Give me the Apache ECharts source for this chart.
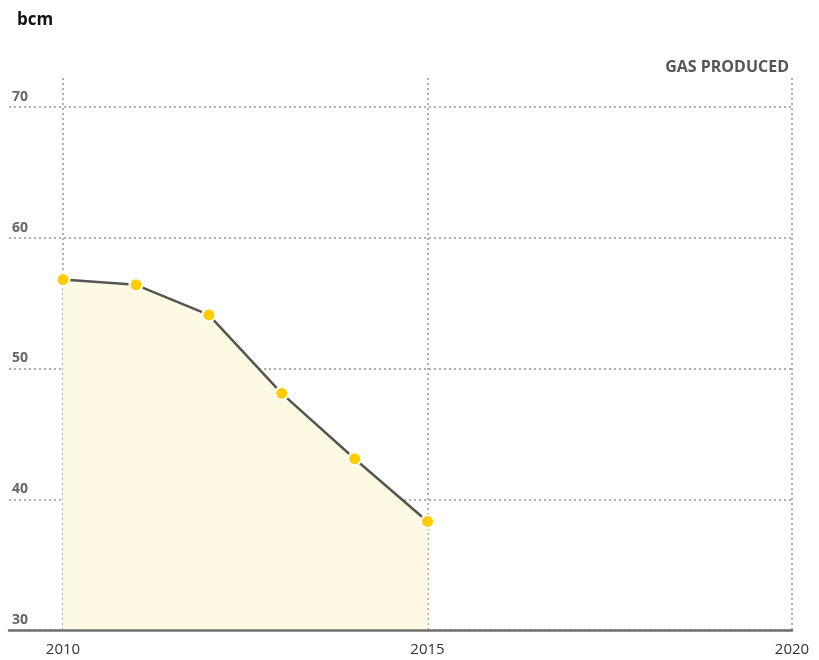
<!DOCTYPE html>
<html>
<head>
<meta charset="utf-8">
<script src="https://cdn.jsdelivr.net/npm/echarts@6/dist/echarts.min.js"></script>
<style>
  html, body { margin: 0; padding: 0; background: #fff; }
  #chart { width: 819px; height: 660px; }
</style>
</head>
<body>
<div id="chart"></div>
<script>
const years = [2010, 2011, 2012, 2013, 2014, 2015];
const gasProduced = [56.8, 56.4, 54.1, 48.1, 43.1, 38.3];

const chart = echarts.init(document.getElementById("chart"));

const dotted = { color: "#b0b0b0", width: 2, type: [2, 3] };

const option = {
	animation: false,
	textStyle: { fontFamily: "Open Sans" },
	title: [
		{
			text: "bcm",
			left: 12, top: 7,
			textStyle: { fontSize: 17, fontWeight: "bold", color: "#111" }
		},
		{
			text: "GAS PRODUCED",
			right: 25, top: 54,
			textStyle: { fontSize: 16, fontWeight: "bold", color: "#555" }
		}
	],
	grid: [
		{ left: 9, right: 27, top: 107, bottom: 30 },
		{ left: 63, right: 27, top: 78, bottom: 30 }
	],
	xAxis: [
		{
			gridIndex: 0, type: "value", min: 0, max: 1, z: 10,
			axisLine: { show: true, lineStyle: { color: "#707070", width: 2.5 } },
			axisTick: { show: false }, axisLabel: { show: false },
			splitLine: { show: false }
		},
		{
			gridIndex: 1, type: "value", min: 2010, max: 2020, interval: 5,
			axisLine: { show: false }, axisTick: { show: false },
			axisLabel: {
				color: "#333", fontSize: 15, margin: 12,
				formatter: (v) => String(v)
			},
			splitLine: { show: true, lineStyle: dotted }
		}
	],
	yAxis: [
		{
			gridIndex: 0, type: "value", min: 30, max: 70, interval: 10,
			axisLine: { show: false }, axisTick: { show: false },
			axisLabel: {
				inside: true, margin: 3, verticalAlign: "bottom",
				padding: [0, 0, 3, 0],
				color: "#666", fontSize: 14, fontWeight: "bold"
			},
			splitLine: { show: true, lineStyle: dotted }
		},
		{
			gridIndex: 1, type: "value", min: 30, max: 72.22, show: false
		}
	],
	series: [{
		name: "Gas produced",
		type: "line",
		xAxisIndex: 1,
		yAxisIndex: 1,
		data: years.map((y, i) => [y, gasProduced[i]]),
		lineStyle: { color: "#555", width: 2.5 },
		areaStyle: { color: "#fef9e3", opacity: 1 },
		symbol: "circle",
		symbolSize: 13,
		itemStyle: { color: "#ffcc00", borderColor: "#fff", borderWidth: 2 },
		z: 5
	}]
};

chart.setOption(option);
window.onresize = chart.resize;
</script>
</body>
</html>
